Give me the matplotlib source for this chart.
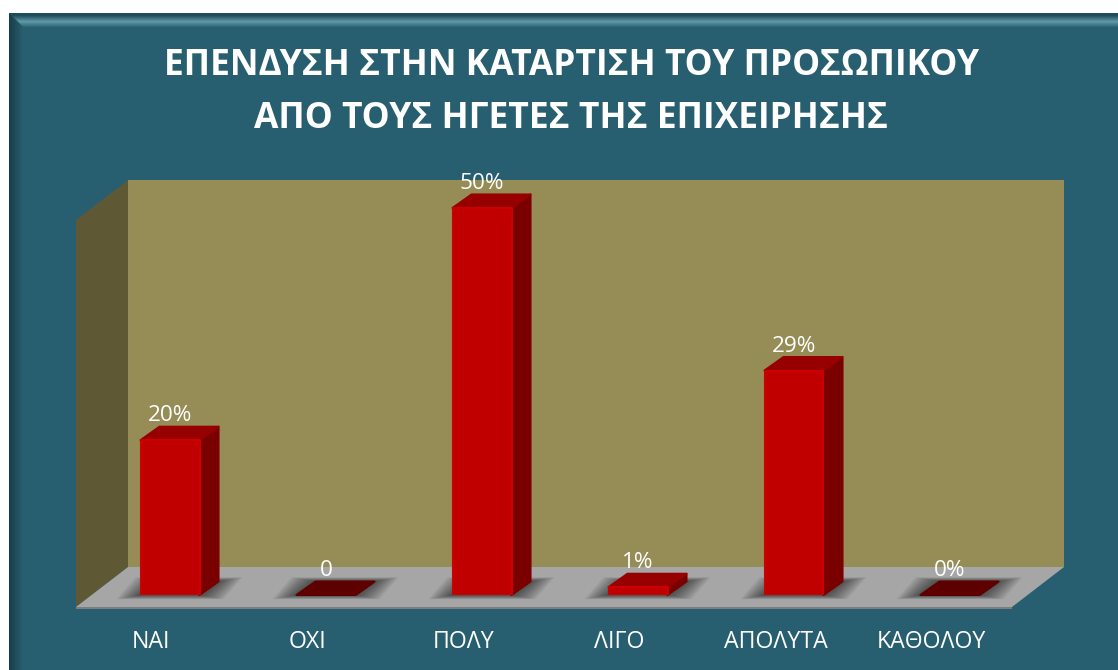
#! /usr/bin/env python3

'''
3D style column chart: investment in staff training
'''

import matplotlib.pyplot as plt
from matplotlib.patches import Polygon, Rectangle

plt.rcParams['font.family'] = ['Open Sans', 'DejaVu Sans']

title = 'ΕΠΕΝΔΥΣΗ ΣΤΗΝ ΚΑΤΑΡΤΙΣΗ ΤΟΥ ΠΡΟΣΩΠΙΚΟΥ\nΑΠΟ ΤΟΥΣ ΗΓΕΤΕΣ ΤΗΣ ΕΠΙΧΕΙΡΗΣΗΣ'
categories = ['ΝΑΙ', 'ΟΧΙ', 'ΠΟΛΥ', 'ΛΙΓΟ', 'ΑΠΟΛΥΤΑ', 'ΚΑΘΟΛΟΥ']
values = [20, 0, 50, 1, 29, 0]
value_labels = ['20%', '0', '50%', '1%', '29%', '0%']

W, H = 1118, 670
PANEL = '#285f70'
PX_X = 156.0  # pixels per category
PX_Y = 7.74   # pixels per percent


def hex_rgb(c):
    return tuple(int(c[i:i + 2], 16) / 255 for i in (1, 3, 5))


def fade(c1, c2, t):
    return tuple(a + (b - a) * t for a, b in zip(c1, c2))


def draw_panel(fig):
    bg = fig.add_axes([0, 0, 1, 1], zorder=0)
    bg.set_xlim(0, W)
    bg.set_ylim(H, 0)
    bg.axis('off')
    base = hex_rgb(PANEL)
    dark = hex_rgb('#1f4c5b')
    light = hex_rgb('#5f98a8')
    bg.add_patch(Rectangle((9, 13), W - 9, H - 13, color=PANEL, lw=0))
    # bevel, one pixel strip at a time, mitred at the corner
    for i in range(15):
        if i < 3:
            top = dark
        elif i < 9:
            top = fade(dark, light, (i - 2) / 6)
        else:
            top = fade(light, base, (i - 8) / 6)
        left = fade(hex_rgb('#183e4b'), base, i / 14)
        x, y = 9 + i, 13 + i
        bg.add_patch(Polygon([(x, y), (W, y), (W, y + 1), (x + 1, y + 1)],
                             color=top, lw=0))
        bg.add_patch(Polygon([(x, y), (x + 1, y + 1), (x + 1, H), (x, H)],
                             color=left, lw=0))


def main():
    fig = plt.figure(figsize=(W / 100, H / 100), dpi=100, facecolor='white')
    draw_panel(fig)

    ax = fig.add_axes([76 / W, (H - 595) / H, 936 / W, 60 * PX_Y / H], zorder=1)
    ax.set_xlim(-0.5, 5.5)
    ax.set_ylim(0, 60)
    ax.patch.set_visible(False)
    for spine in ax.spines.values():
        spine.set_visible(False)

    # walls and floor of the box
    wall_dx = 52 / PX_X
    wall_dy = 40 / PX_Y
    floor = -12 / PX_Y
    wall_h = 387 / PX_Y
    x0, x1 = -0.5, 5.5
    ax.add_patch(Polygon([(x0 + wall_dx, floor + wall_dy), (x1 + wall_dx, floor + wall_dy),
                          (x1 + wall_dx, floor + wall_dy + wall_h),
                          (x0 + wall_dx, floor + wall_dy + wall_h)],
                         color='#968c56', lw=0, clip_on=False, zorder=1))
    ax.add_patch(Polygon([(x0, floor), (x0 + wall_dx, floor + wall_dy),
                          (x0 + wall_dx, floor + wall_dy + wall_h),
                          (x0, floor + wall_h)],
                         color='#5f5835', lw=0, clip_on=False, zorder=1))
    ax.add_patch(Polygon([(x0, floor), (x1, floor), (x1 + wall_dx, floor + wall_dy),
                          (x0 + wall_dx, floor + wall_dy)],
                         color='#a6a6a6', lw=0, clip_on=False, zorder=2))
    ax.add_patch(Rectangle((x0, floor - 2 / PX_Y), x1 - x0, 2 / PX_Y,
                           color='#7d7d7d', lw=0, clip_on=False, zorder=2))

    # columns
    xs = [i + 16 / PX_X for i in range(len(values))]
    width = 59 / PX_X
    dx = 19 / PX_X
    dy = 13.5 / PX_Y
    for x, v in zip(xs, values):
        left, right = x - width / 2, x + width / 2
        # soft shadow on the floor
        for n in range(1, 13):
            gx = n * 2.0 / PX_X
            gy = n * 0.35 / PX_Y
            ax.add_patch(Polygon([(left - gx, -gy), (right + gx, -gy),
                                  (right + dx + gx, dy + gy),
                                  (left + dx - gx, dy + gy)],
                                 color='black', alpha=0.055, lw=0,
                                 clip_on=False, zorder=3))
        top_color = '#5f0000' if v == 0 else '#960000'
        ax.add_patch(Polygon([(right, 0), (right + dx, dy), (right + dx, v + dy), (right, v)],
                             facecolor='#7a0000', edgecolor='#7a0000', lw=1.5,
                             joinstyle='round', clip_on=False, zorder=4))
        ax.add_patch(Polygon([(left, v), (right, v), (right + dx, v + dy), (left + dx, v + dy)],
                             facecolor=top_color, edgecolor=top_color, lw=1.5,
                             joinstyle='round', clip_on=False, zorder=5))
    # a zero column has no front face to outline
    edge_widths = [1.5 if v > 0 else 0 for v in values]
    ax.bar(xs, values, width=width, color='#c00000', edgecolor='#cc0000',
           linewidth=edge_widths, joinstyle='round', zorder=6)

    for x, v, label in zip(xs, values, value_labels):
        ax.text(x, v + dy + 5.5 / PX_Y, label, color='white', fontsize=16.2,
                ha='center', va='baseline', zorder=8, clip_on=False)

    ax.set_yticks([])
    ax.set_xticks([i - 2.5 / PX_X for i in range(len(categories))], categories)
    ax.tick_params(axis='x', length=0, pad=25, labelsize=16.7, labelcolor='white')

    fig.text(571.5 / W, 1 - 127.5 / H, title, color='white', fontsize=25.5, fontweight='bold',
             ha='center', va='baseline', linespacing=1.6, multialignment='center', zorder=5)

    fig.savefig('out.png', dpi=100, facecolor='white')


if __name__ == '__main__':
    main()
